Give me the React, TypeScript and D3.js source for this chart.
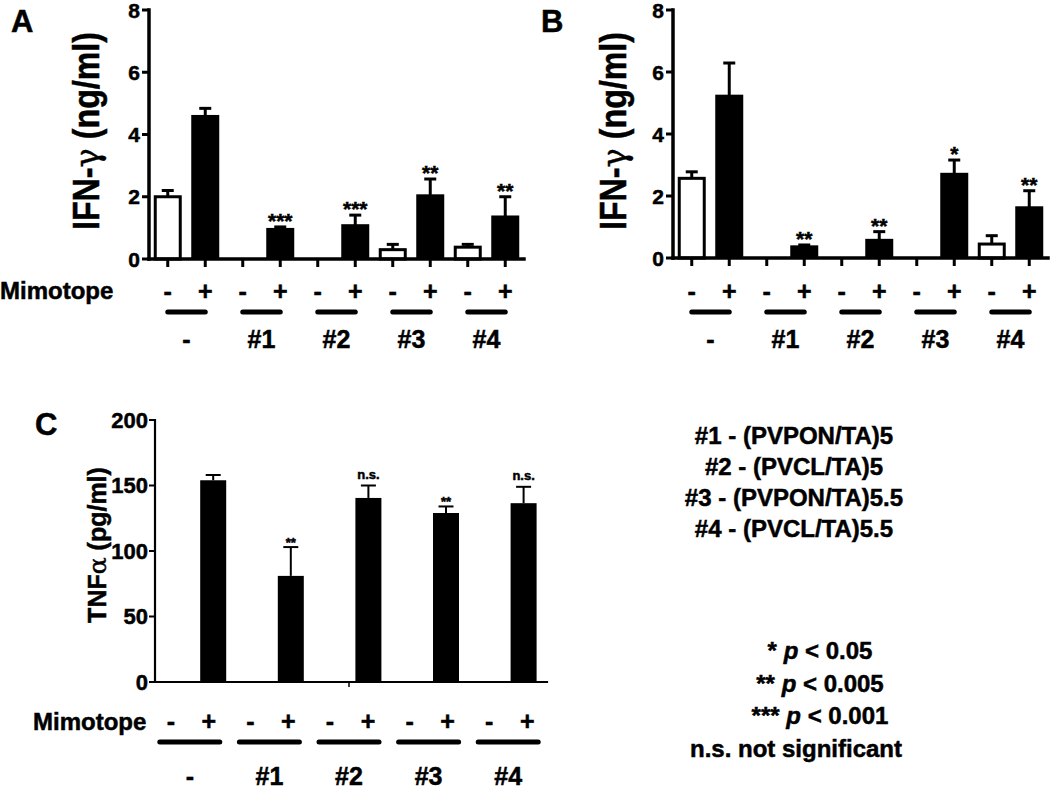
import React from 'react';
import * as d3 from 'd3';

// ---------- data ----------
const slotSigns = ['-', '+', '-', '+', '-', '+', '-', '+', '-', '+'];
const groupLabels = ['-', '#1', '#2', '#3', '#4'];

const ifnTicks = [0, 2, 4, 6, 8];
const ifnAMeans = [2.0, 4.58, 0, 0.95, 0, 1.07, 0.3, 2.03, 0.38, 1.35];
const ifnASem = [0.2, 0.26, 0, 0.08, 0, 0.34, 0.17, 0.54, 0.09, 0.65];
const ifnASig = ['', '', '', '***', '', '***', '', '**', '', '**'];

const ifnBMeans = [2.57, 5.22, 0, 0.36, 0, 0.57, 0, 2.7, 0.45, 1.62];
const ifnBSem = [0.21, 1.07, 0, 0.06, 0, 0.28, 0, 0.46, 0.27, 0.55];
const ifnBSig = ['', '', '', '**', '', '**', '', '*', '', '**'];

const tnfTicks = [0, 50, 100, 150, 200];
const tnfMeans = [0, 154, 0, 81, 0, 140.5, 0, 129, 0, 136.5];
const tnfSem = [0, 4, 0, 22, 0, 9.5, 0, 5, 0, 12.5];
const tnfSig = ['', '', '', '**', '', 'n.s.', '', '**', '', 'n.s.'];

const legendLines = ['#1 - (PVPON/TA)5', '#2 - (PVCL/TA)5', '#3 - (PVPON/TA)5.5', '#4 - (PVCL/TA)5.5'];
const pStars = ['*', '**', '***'];
const pValues = ['0.05', '0.005', '0.001'];
const nsText = 'n.s. not significant';

const FONT = "'Liberation Sans', Arial, Helvetica, sans-serif";
const SYM = "'DejaVu Serif', 'Liberation Serif', serif";

type IfnProps = {
  means: number[]; sems: number[]; sigs: string[];
  x0: number; x1: number; y0: number; y1: number;
  letter: string; letterX: number; titleX: number; mimotope: boolean;
};

function IfnPanel(p: IfnProps) {
  const x = d3.scaleBand<number>().domain(d3.range(p.means.length)).range([p.x0, p.x1]);
  const y = d3.scaleLinear().domain([0, 8]).range([p.y0, p.y1]);
  const g = d3.scaleBand<number>().domain(d3.range(groupLabels.length)).range([p.x0, p.x1]);
  const cx = (i: number) => (x(i) as number) + x.bandwidth() / 2;
  const bw = 28;
  const capW = 12;
  const base = y(0);
  const signY = 300;
  const lineY = 312;
  const groupY = 348;
  return (
    <g fontFamily={FONT}>
      <text x={p.letterX} y={32} fontSize={31} fontWeight="bold">{p.letter}</text>
      <text transform={`translate(${p.titleX},131) rotate(-90)`} textAnchor="middle" fontSize={36} fontWeight="bold"
        textLength={198} lengthAdjust="spacingAndGlyphs">
        IFN-<tspan fontFamily={SYM} fontWeight="normal">γ</tspan> (ng/ml)
      </text>
      {p.means.map((v, i) => {
        if (v <= 0) return null;
        const open = slotSigns[i] === '-';
        const top = y(v);
        return open ? (
          <rect key={'b' + i} x={cx(i) - bw / 2 + 1.5} y={top} width={bw - 3} height={base - top}
            fill="#fff" stroke="#000" strokeWidth={3} />
        ) : (
          <rect key={'b' + i} x={cx(i) - bw / 2} y={top - 1.5} width={bw} height={base - top + 1.5} fill="#000" />
        );
      })}
      {p.means.map((v, i) => {
        if (v <= 0) return null;
        const top = y(v);
        const e = y(v + p.sems[i]);
        return (
          <g key={'e' + i} stroke="#000" strokeWidth={3}>
            <line x1={cx(i)} x2={cx(i)} y1={top} y2={e} />
            <line x1={cx(i) - capW / 2} x2={cx(i) + capW / 2} y1={e} y2={e} />
          </g>
        );
      })}
      {p.sigs.map((s, i) => s ? (
        <text key={'s' + i} x={cx(i)} y={y(p.means[i] + p.sems[i]) + 1} textAnchor="middle" fontSize={21} fontWeight="bold">{s}</text>
      ) : null)}
      <line x1={p.x0} x2={p.x0} y1={y(8)} y2={base} stroke="#000" strokeWidth={3.5} strokeLinecap="square" />
      <line x1={p.x0} x2={p.x1} y1={base} y2={base} stroke="#000" strokeWidth={3.5} strokeLinecap="square" />
      {ifnTicks.map(t => (
        <g key={'yt' + t}>
          <line x1={p.x0 - 7} x2={p.x0} y1={y(t)} y2={y(t)} stroke="#000" strokeWidth={3} />
          <text x={p.x0 - 9} y={y(t) + 7.5} textAnchor="end" fontSize={21} fontWeight="bold">{t}</text>
        </g>
      ))}
      {slotSigns.map((s, i) => (
        <line key={'xt' + i} x1={cx(i)} x2={cx(i)} y1={base} y2={base + 8} stroke="#000" strokeWidth={3} />
      ))}
      {p.mimotope ? <text x={0} y={signY - 1} fontSize={24} fontWeight="bold">Mimotope</text> : null}
      {slotSigns.map((s, i) => (
        <text key={'sg' + i} x={cx(i)} y={signY} textAnchor="middle" fontSize={25} fontWeight="bold">{s}</text>
      ))}
      {groupLabels.map((l, k) => (
        <line key={'gl' + k} x1={cx(2 * k)} x2={cx(2 * k + 1)} y1={lineY} y2={lineY} stroke="#000" strokeWidth={5} strokeLinecap="round" />
      ))}
      {groupLabels.map((l, k) => (
        <text key={'gt' + k} x={(g(k) as number) + g.bandwidth() / 2} y={groupY} textAnchor="middle" fontSize={25} fontWeight="bold">{l}</text>
      ))}
    </g>
  );
}

function TnfPanel() {
  const x0 = 155, x1 = 543;
  const x = d3.scaleBand<number>().domain(d3.range(tnfMeans.length)).range([x0, x1]);
  const y = d3.scaleLinear().domain([0, 200]).range([682, 420]);
  const ann = d3.scaleBand<number>().domain(d3.range(groupLabels.length)).range([150, 548]);
  const cx = (i: number) => (x(i) as number) + x.bandwidth() / 2;
  const gc = (k: number) => (ann(k) as number) + ann.bandwidth() / 2;
  const bw = 26;
  const capW = 15;
  const base = y(0);
  return (
    <g fontFamily={FONT}>
      <text x={35} y={435} fontSize={31} fontWeight="bold">C</text>
      <text transform="translate(106,545) rotate(-90)" textAnchor="middle" fontSize={25} fontWeight="bold">
        TNF<tspan fontFamily={SYM} fontWeight="normal">α</tspan> (pg/ml)
      </text>
      {tnfMeans.map((v, i) => v > 0 ? (
        <rect key={'b' + i} x={cx(i) - bw / 2} y={y(v)} width={bw} height={base - y(v)} fill="#000" />
      ) : null)}
      {tnfMeans.map((v, i) => {
        if (v <= 0) return null;
        const e = y(v + tnfSem[i]);
        return (
          <g key={'e' + i} stroke="#000" strokeWidth={2}>
            <line x1={cx(i)} x2={cx(i)} y1={y(v)} y2={e} />
            <line x1={cx(i) - capW / 2} x2={cx(i) + capW / 2} y1={e} y2={e} />
          </g>
        );
      })}
      {tnfSig.map((s, i) => s ? (
        <text key={'s' + i} x={cx(i)} y={y(tnfMeans[i] + tnfSem[i]) - (s === 'n.s.' ? 7 : 0)} textAnchor="middle"
          fontSize={13} fontWeight="bold">{s}</text>
      ) : null)}
      <line x1={x0} x2={x0} y1={y(200)} y2={base} stroke="#000" strokeWidth={2.2} strokeLinecap="square" />
      <line x1={x0} x2={x1 + 4} y1={base} y2={base} stroke="#000" strokeWidth={2.2} strokeLinecap="square" />
      <line x1={(x0 + x1) / 2} x2={(x0 + x1) / 2} y1={base} y2={base + 5} stroke="#000" strokeWidth={1.5} />
      {tnfTicks.map(t => (
        <g key={'yt' + t}>
          <line x1={x0 - 6} x2={x0} y1={y(t)} y2={y(t)} stroke="#000" strokeWidth={2} />
          <text x={x0 - 7} y={y(t) + 7.5} textAnchor="end" fontSize={22} fontWeight="bold">{t}</text>
        </g>
      ))}
      <text x={33} y={730} fontSize={24} fontWeight="bold">Mimotope</text>
      {groupLabels.map((l, k) => (
        <g key={'g' + k}>
          <text x={gc(k) - 19} y={730} textAnchor="middle" fontSize={25} fontWeight="bold">{slotSigns[2 * k]}</text>
          <text x={gc(k) + 19} y={730} textAnchor="middle" fontSize={25} fontWeight="bold">{slotSigns[2 * k + 1]}</text>
          <line x1={gc(k) - 30} x2={gc(k) + 30} y1={742} y2={742} stroke="#000" strokeWidth={5} strokeLinecap="round" />
          <text x={gc(k)} y={785} textAnchor="middle" fontSize={25} fontWeight="bold">{l}</text>
        </g>
      ))}
    </g>
  );
}

function Legend() {
  const rowY = d3.scaleLinear().domain([0, 3]).range([444, 537]);
  const pY = d3.scaleLinear().domain([0, 3]).range([659, 757]);
  return (
    <g fontFamily={FONT} fontWeight="bold">
      {legendLines.map((l, i) => (
        <text key={'l' + i} x={794} y={rowY(i)} textAnchor="middle" fontSize={24}>{l}</text>
      ))}
      {pStars.map((s, i) => (
        <text key={'p' + i} x={820} y={pY(i)} textAnchor="middle" fontSize={24}>
          {s} <tspan fontStyle="italic">p</tspan> {'<'} {pValues[i]}
        </text>
      ))}
      <text x={796} y={pY(3)} textAnchor="middle" fontSize={24}>{nsText}</text>
    </g>
  );
}

export default function App() {
  return (
    <svg width={1050} height={790} viewBox="0 0 1050 790"
      style={{ position: 'absolute', left: 0, top: 0, background: '#fff' }}>
      <style>{`text { stroke: #000; stroke-width: 0.5px; }`}</style>
      <rect x={0} y={0} width={1050} height={790} fill="#fff" />
      <IfnPanel means={ifnAMeans} sems={ifnASem} sigs={ifnASig} x0={149} x1={524} y0={259} y1={10}
        letter="A" letterX={11} titleX={99} mimotope={true} />
      <IfnPanel means={ifnBMeans} sems={ifnBSem} sigs={ifnBSig} x0={673} x1={1048} y0={258} y1={10}
        letter="B" letterX={541} titleX={626} mimotope={false} />
      <TnfPanel />
      <Legend />
    </svg>
  );
}
